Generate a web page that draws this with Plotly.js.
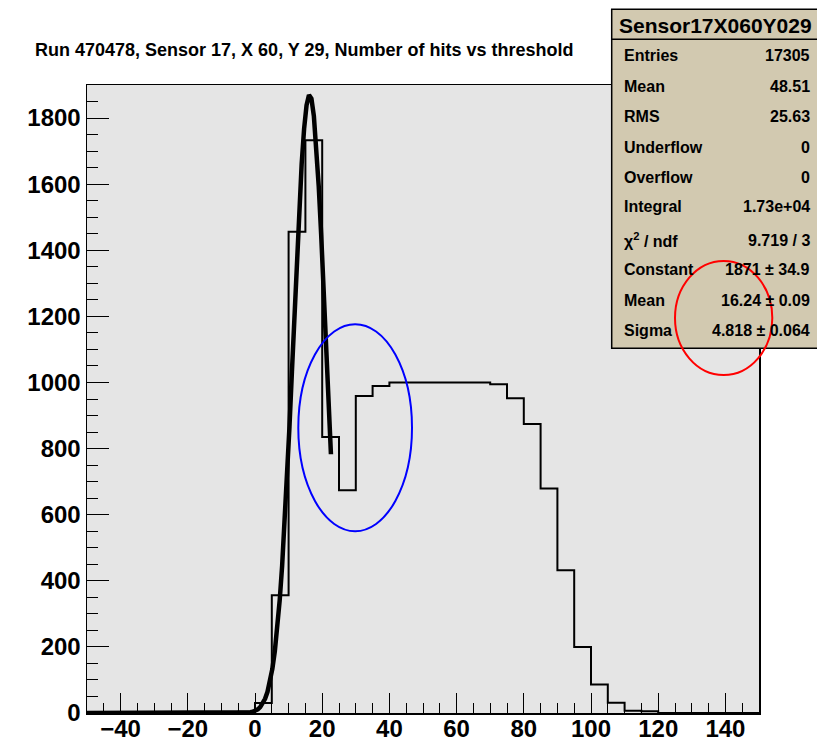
<!DOCTYPE html>
<html>
<head>
<meta charset="utf-8">
<script src="https://cdn.plot.ly/plotly-3.0.1.min.js"></script>
<style>
  html, body { margin: 0; padding: 0; background: #ffffff; }
  #chart { width: 817px; height: 743px; }
</style>
</head>
<body>
<div id="chart"></div>
<script>
// Threshold bin edges (bins 5 units wide) and number of hits in each bin
const binEdges = [-50, -45, -40, -35, -30, -25, -20, -15, -10, -5,
                  0, 5, 10, 15, 20, 25, 30, 35, 40, 45,
                  50, 55, 60, 65, 70, 75, 80, 85, 90, 95,
                  100, 105, 110, 115, 120, 125, 130, 135, 140, 145, 150];
const hitCounts = [0, 0, 0, 0, 0, 0, 0, 0, 0, 4,
                   30, 356, 1456, 1733, 835, 674, 959, 989, 1000, 1000,
                   1000, 1000, 1000, 1000, 995, 952, 874, 679, 432, 200,
                   86, 31, 7, 5, 0, 0, 0, 0, 0, 0];

// Gaussian fit parameters and the range it was fitted over
const fitConstant = 1871;
const fitMean = 16.24;
const fitSigma = 4.818;
const fitRange = [-50, 22.6];
const fitPoints = 100;

// Statistics box
const statTitle = 'Sensor17X060Y029';
const statLabels = ['Entries', 'Mean', 'RMS', 'Underflow', 'Overflow', 'Integral',
                    '\u03c7<sup>2</sup> / ndf', 'Constant', 'Mean', 'Sigma'];
const statValues = ['17305', '48.51', '25.63', '0', '0', '1.73e+04',
                    '9.719 / 3', '1871 \u00b1 34.9', '16.24 \u00b1 0.09', '4.818 \u00b1 0.064'];

const plotTitle = 'Run 470478, Sensor 17, X 60, Y 29, Number of hits vs threshold';

// ---- page geometry (pixels) ----
const W = 817, H = 743;
const M = { l: 87, r: 58, t: 85, b: 30 };
const plotW = W - M.l - M.r, plotH = H - M.t - M.b;
const toPaperX = p => (p - M.l) / plotW;
const toPaperY = p => (H - M.b - p) / plotH;

const FONT = 'Liberation Sans, Arial, Helvetica, sans-serif';

// Step outline of the histogram
const stepY = hitCounts.concat([0]);
const histTrace = {
  type: 'scatter', mode: 'lines',
  x: binEdges, y: stepY,
  line: { shape: 'hv', color: '#000000', width: 2 },
  hoverinfo: 'skip', showlegend: false
};

// Fitted Gaussian evaluated over the fit range
const fitX = [], fitY = [];
for (let i = 0; i <= fitPoints; i++) {
  const x = fitRange[0] + (fitRange[1] - fitRange[0]) * i / fitPoints;
  fitX.push(x);
  fitY.push(fitConstant * Math.exp(-0.5 * Math.pow((x - fitMean) / fitSigma, 2)));
}
const fitTrace = {
  type: 'scatter', mode: 'lines',
  x: fitX, y: fitY,
  line: { color: '#000000', width: 4.5 },
  hoverinfo: 'skip', showlegend: false
};

// Stats box: frame, title row and rows of text
const box = { left: 611.7, right: 830, top: 9.3, titleBottom: 39.3, bottom: 348.3 };
const rowY = [56, 86, 116, 147.3, 177.3, 206.5, 240, 269.3, 300, 330.7];

const shapes = [
  { type: 'rect', xref: 'paper', yref: 'paper', layer: 'above',
    x0: toPaperX(box.left), x1: toPaperX(box.right),
    y0: toPaperY(box.bottom), y1: toPaperY(box.top),
    fillcolor: '#d2c9b0', line: { color: '#000000', width: 1.5 } },
  { type: 'line', xref: 'paper', yref: 'paper', layer: 'above',
    x0: toPaperX(box.left), x1: toPaperX(box.right),
    y0: toPaperY(box.titleBottom), y1: toPaperY(box.titleBottom),
    line: { color: '#000000', width: 1.5 } },
  // highlight around the dip after the peak
  { type: 'circle', xref: 'paper', yref: 'paper', layer: 'above',
    x0: toPaperX(298.3), x1: toPaperX(412), y0: toPaperY(531.2), y1: toPaperY(324.3),
    line: { color: '#0000ff', width: 2 } },
  // highlight around the fit mean and sigma
  { type: 'circle', xref: 'paper', yref: 'paper', layer: 'above',
    x0: toPaperX(675), x1: toPaperX(772.3), y0: toPaperY(375), y1: toPaperY(261),
    line: { color: '#ff0000', width: 2 } }
];

const statFont = { family: FONT, size: 16, color: '#000000', weight: 'bold' };
const annotations = [
  { xref: 'paper', yref: 'paper', x: toPaperX(715), y: toPaperY(25),
    xanchor: 'center', yanchor: 'middle', showarrow: false, text: statTitle,
    font: { family: FONT, size: 21, color: '#000000', weight: 'bold' } }
];
statLabels.forEach((lab, i) => {
  annotations.push({ xref: 'paper', yref: 'paper', x: toPaperX(621.7), y: toPaperY(rowY[i]),
    xanchor: 'left', yanchor: 'middle', showarrow: false, text: lab, font: statFont });
  annotations.push({ xref: 'paper', yref: 'paper', x: toPaperX(811.7), y: toPaperY(rowY[i]),
    xanchor: 'right', yanchor: 'middle', showarrow: false, text: statValues[i], font: statFont });
});

const tickFont = { family: FONT, size: 24, color: '#000000', weight: 'bold' };

const layout = {
  width: W, height: H,
  margin: M,
  paper_bgcolor: '#ffffff',
  plot_bgcolor: '#e5e5e5',
  title: {
    text: plotTitle,
    font: { family: FONT, size: 18, color: '#000000', weight: 'bold' },
    x: 35 / W, xanchor: 'left', xref: 'container',
    y: 1 - 50 / H, yanchor: 'middle', yref: 'container'
  },
  xaxis: {
    range: [-50, 150], autorange: false,
    tick0: 0, dtick: 20, ticks: 'inside', ticklen: 20, tickwidth: 1, tickcolor: '#000000',
    minor: { dtick: 5, ticks: 'inside', ticklen: 10, tickwidth: 1, tickcolor: '#000000' },
    showline: true, mirror: true, linecolor: '#000000', linewidth: 1.5,
    showgrid: false, zeroline: false,
    ticklabelstandoff: -6,
    tickfont: tickFont
  },
  yaxis: {
    range: [0, 1900], autorange: false,
    tick0: 0, dtick: 200, ticks: 'inside', ticklen: 22, tickwidth: 1, tickcolor: '#000000',
    minor: { dtick: 50, ticks: 'inside', ticklen: 11, tickwidth: 1, tickcolor: '#000000' },
    showline: true, mirror: true, linecolor: '#000000', linewidth: 1.5,
    showgrid: false, zeroline: false,
    tickfont: tickFont
  },
  shapes: shapes,
  annotations: annotations,
  showlegend: false
};

Plotly.newPlot('chart', [histTrace, fitTrace], layout, { staticPlot: true, displayModeBar: false });
</script>
</body>
</html>
